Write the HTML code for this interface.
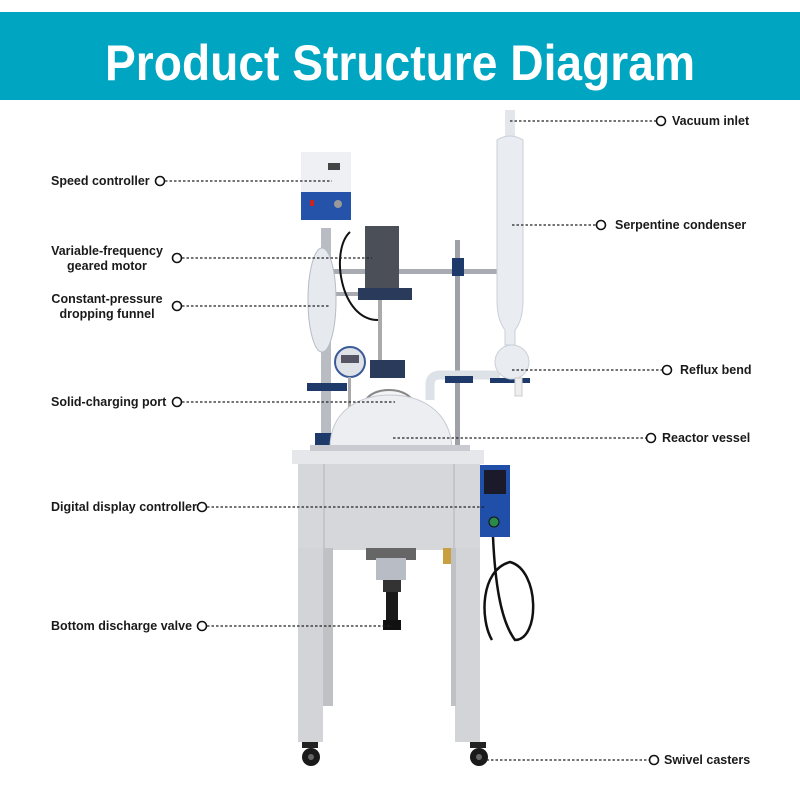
<!DOCTYPE html>
<html><head><meta charset="utf-8"><style>
html,body{margin:0;padding:0;background:#fff;}
svg{display:block;font-family:"Liberation Sans",Arial,sans-serif;}
.l{font-size:12.5px;font-weight:bold;fill:#1a1a1a;}
.d{stroke:#222;stroke-width:1.2;stroke-dasharray:2.5,2;fill:none;}
.c{fill:#fff;stroke:#111;stroke-width:1.6;}
</style></head><body>
<svg width="800" height="800" viewBox="0 0 800 800">
<rect x="0" y="12" width="800" height="88" fill="#00a6c1"/>
<text x="400" y="80" text-anchor="middle" font-size="50" font-weight="bold" fill="#fff" textLength="590" lengthAdjust="spacingAndGlyphs">Product Structure Diagram</text>

<!-- machine -->
<!-- stand -->
<rect x="298" y="462" width="182" height="88" fill="#d6d7db"/>
<rect x="323" y="462" width="2" height="88" fill="#c4c5c9"/>
<rect x="453" y="462" width="2" height="88" fill="#c4c5c9"/>
<rect x="292" y="450" width="192" height="14" fill="#e6e7ea"/>
<rect x="298" y="548" width="25" height="194" fill="#d3d4d8"/>
<rect x="323" y="548" width="10" height="158" fill="#c0c1c5"/>
<rect x="455" y="548" width="25" height="194" fill="#d3d4d8"/>
<rect x="451" y="548" width="5" height="158" fill="#c0c1c5"/>
<circle cx="311" cy="757" r="9" fill="#1a1a1a"/><circle cx="311" cy="757" r="3" fill="#666"/>
<circle cx="479" cy="757" r="9" fill="#1a1a1a"/><circle cx="479" cy="757" r="3" fill="#666"/>
<rect x="302" y="742" width="16" height="6" fill="#222"/><rect x="470" y="742" width="16" height="6" fill="#222"/>
<!-- bottom valve -->
<rect x="366" y="548" width="50" height="12" fill="#666"/>
<rect x="376" y="558" width="30" height="22" fill="#b8bcc4"/>
<rect x="383" y="580" width="18" height="12" fill="#333"/>
<rect x="386" y="592" width="12" height="30" fill="#1a1a1a"/>
<rect x="383" y="620" width="18" height="10" fill="#111"/>
<rect x="443" y="548" width="8" height="16" fill="#c9a040"/>
<!-- control box -->
<rect x="480" y="465" width="30" height="72" fill="#1f4fa8"/>
<rect x="484" y="470" width="22" height="24" fill="#1a1a2a"/>
<circle cx="494" cy="522" r="5" fill="#2a8a4a" stroke="#111"/>
<!-- cable -->
<path d="M493 537 C495 580 500 620 515 640 C540 640 540 570 510 562 C480 570 480 620 492 640" fill="none" stroke="#111" stroke-width="2.5"/>
<!-- rods -->
<rect x="321" y="228" width="10" height="220" fill="#b9bcc2"/>
<rect x="455" y="240" width="5" height="205" fill="#9ea2a8"/>
<rect x="332" y="269" width="180" height="5" fill="#a8abb1"/>
<rect x="318" y="292" width="90" height="4" fill="#a8abb1"/>
<rect x="315" y="433" width="18" height="15" fill="#1d3a6a"/>
<rect x="307" y="383" width="40" height="8" fill="#1d3a6a"/>
<!-- funnel -->
<ellipse cx="322" cy="300" rx="14" ry="52" fill="#e6eaef" stroke="#b5bcc5"/>
<!-- speed controller -->
<rect x="301" y="152" width="50" height="42" fill="#eef0f3"/>
<rect x="301" y="192" width="50" height="28" fill="#2553a9"/>
<rect x="328" y="163" width="12" height="7" fill="#444"/>
<circle cx="338" cy="204" r="4" fill="#999"/>
<rect x="310" y="200" width="4" height="6" fill="#c22"/>
<!-- motor -->
<rect x="365" y="226" width="34" height="62" fill="#4b5058"/>
<rect x="358" y="288" width="54" height="12" fill="#2a3a5a"/>
<rect x="378" y="300" width="4" height="60" fill="#aaa"/>
<path d="M350 232 C330 250 340 320 378 320" fill="none" stroke="#111" stroke-width="2"/>
<!-- gauge -->
<circle cx="350" cy="362" r="15" fill="#dfe3e8" stroke="#3a5a9a" stroke-width="2"/>
<rect x="341" y="355" width="18" height="8" fill="#556"/>
<rect x="348" y="377" width="3" height="30" fill="#aaa"/>
<!-- port -->
<rect x="370" y="360" width="35" height="18" fill="#2a3a5a"/>
<ellipse cx="389" cy="404" rx="24" ry="14" fill="#f3f4f6" stroke="#888" stroke-width="2"/>
<!-- vessel -->
<path d="M330 448 C330 410 360 395 390 395 C420 395 450 410 452 448 Z" fill="#eceef2" stroke="#c5cad2"/>
<rect x="310" y="445" width="160" height="6" fill="#c9cbd0"/>
<!-- reflux -->
<path d="M430 400 L430 385 Q430 375 440 375 L500 375" fill="none" stroke="#dde2e8" stroke-width="9"/>
<rect x="445" y="376" width="28" height="7" fill="#1d3a6a"/>
<rect x="490" y="378" width="40" height="5" fill="#1d3a6a"/>
<rect x="452" y="258" width="12" height="18" fill="#1d3a6a"/>
<!-- condenser -->
<rect x="505" y="110" width="10" height="30" fill="#e3e7ec"/>
<path d="M497 140 Q510 132 523 140 L523 300 Q523 320 515 330 L515 345 L505 345 L505 330 Q497 320 497 300 Z" fill="#e9edf2" stroke="#c9d0d8"/>
<circle cx="512" cy="362" r="17" fill="#e9edf2" stroke="#c9d0d8"/>
<rect x="515" y="378" width="7" height="18" fill="#eee" stroke="#ccc"/>

<!-- connectors -->
<g class="d">
<line x1="510" y1="121" x2="656" y2="121"/>
<line x1="512" y1="225" x2="596" y2="225"/>
<line x1="512" y1="370" x2="662" y2="370"/>
<line x1="393" y1="438" x2="646" y2="438"/>
<line x1="482" y1="760" x2="649" y2="760"/>
<line x1="165" y1="181" x2="332" y2="181"/>
<line x1="182" y1="258" x2="372" y2="258"/>
<line x1="182" y1="306" x2="330" y2="306"/>
<line x1="182" y1="402" x2="395" y2="402"/>
<line x1="207" y1="507" x2="485" y2="507"/>
<line x1="207" y1="626" x2="392" y2="626"/>
</g>
<g class="c">
<circle cx="661" cy="121" r="4.5"/><circle cx="601" cy="225" r="4.5"/><circle cx="667" cy="370" r="4.5"/>
<circle cx="651" cy="438" r="4.5"/><circle cx="654" cy="760" r="4.5"/><circle cx="160" cy="181" r="4.5"/>
<circle cx="177" cy="258" r="4.5"/><circle cx="177" cy="306" r="4.5"/><circle cx="177" cy="402" r="4.5"/>
<circle cx="202" cy="507" r="4.5"/><circle cx="202" cy="626" r="4.5"/>
</g>
<g class="l">
<text x="672" y="125">Vacuum inlet</text>
<text x="615" y="229">Serpentine condenser</text>
<text x="680" y="374">Reflux bend</text>
<text x="662" y="442">Reactor vessel</text>
<text x="664" y="764">Swivel casters</text>
<text x="51" y="185">Speed controller</text>
<text x="107" y="255" text-anchor="middle">Variable-frequency</text>
<text x="107" y="270" text-anchor="middle">geared motor</text>
<text x="107" y="303" text-anchor="middle">Constant-pressure</text>
<text x="107" y="318" text-anchor="middle">dropping funnel</text>
<text x="51" y="406">Solid-charging port</text>
<text x="51" y="511">Digital display controller</text>
<text x="51" y="630">Bottom discharge valve</text>
</g>
</svg>
</body></html>
